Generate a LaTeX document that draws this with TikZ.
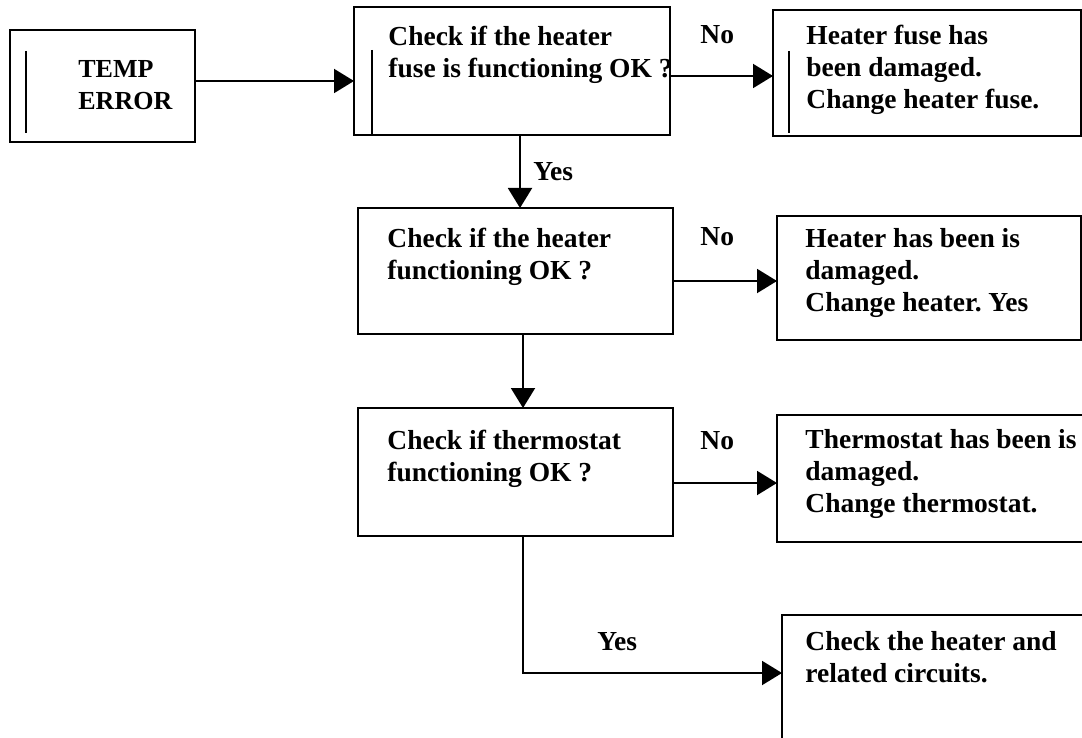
\documentclass[tikz,border=0pt]{standalone}
\usepackage{fontspec}
\setmainfont{Liberation Serif}
\usetikzlibrary{arrows.meta}

\newcommand{\firstline}{\rule{0pt}{10pt}}
\frenchspacing

\begin{document}
\begin{tikzpicture}[x=0.5pt,y=-0.5pt,
  box/.style={draw,line width=1pt,inner sep=0pt,outer sep=0pt},
  txt/.style={anchor=north west,align=left,inner sep=0pt,font=\bfseries\fontsize{13.75pt}{16pt}\selectfont},
  lbl/.style={anchor=base west,inner sep=0pt,font=\bfseries\fontsize{13.75pt}{16pt}\selectfont},
  arr/.style={line width=1pt,-{Triangle[length=10pt,width=12pt]}}]
\useasboundingbox (0,0) rectangle (1082,738);
% boxes, measured on the page (1 unit = 1 pixel of the sheet)
\node[box,minimum width=92.5pt,minimum height=56pt]  (err)       at (102.5,86)  {};
\node[box,minimum width=158pt,minimum height=64pt]   (fuse)      at (512,71)    {};
\node[box,minimum width=154pt,minimum height=63pt]   (fusebad)   at (927,73)    {};
\node[box,minimum width=157.5pt,minimum height=63pt] (heat)      at (515.5,271) {};
\node[box,minimum width=152pt,minimum height=62pt]   (heatbad)   at (929,278)   {};
\node[box,minimum width=157.5pt,minimum height=64pt] (thermo)    at (515.5,472) {};
\node[box,minimum width=156.5pt,minimum height=63.5pt] (thermobad) at (933.5,478.5) {};
\node[box,minimum width=154pt,minimum height=72.5pt] (final)     at (936,687.5) {};

% stray frame lines of the old text boxes
\draw[line width=1pt] (26,51) -- (26,133);
\draw[line width=1pt] (372,50) -- (372,135);
\draw[line width=1pt] (789,51) -- (789,133);

\node[txt,font=\bfseries\fontsize{13pt}{16pt}\selectfont] (errtext) at (78,57) {\firstline TEMP\\ERROR};
\node[txt] (fusetext)      at (388,25)  {\firstline Check if the heater\\fuse is functioning OK ?};
\node[txt] (fusebadtext)   at (806,24)  {\firstline Heater fuse has\\been damaged.\\Change heater fuse.};
\node[txt] (heattext)      at (387,227) {\firstline Check if the heater\\functioning OK ?};
\node[txt] (heatbadtext)   at (805,227) {\firstline Heater has been is\\damaged.\\Change heater. Yes};
\node[txt] (thermotext)    at (387,429) {\firstline Check if thermostat\\functioning OK ?};
\node[txt] (thermobadtext) at (805,428) {\firstline Thermostat has been is\\damaged.\\Change thermostat.};
\node[txt] (finaltext)     at (805,630) {\firstline Check the heater and\\related circuits.};

\node[lbl] (no1)  at (700,44)  {No};
\node[lbl] (no2)  at (700,245) {No};
\node[lbl] (no3)  at (700,449) {No};
\node[lbl] (yes1) at (533,180) {Yes};
\node[lbl] (yes2) at (597,650) {Yes};

\draw[arr] ([yshift=2.5pt]err.east) -- ([yshift=2.5pt]err.east -| fuse.west);
\draw[arr] ([yshift=-2.5pt]fuse.east) -- ([yshift=-2.5pt]fuse.east -| fusebad.west);
\draw[arr] ([xshift=4pt]fuse.south) -- ([xshift=4pt]fuse.south |- heat.north);
\draw[arr] ([yshift=-5pt]heat.east) -- ([yshift=-5pt]heat.east -| heatbad.west);
\draw[arr] ([xshift=3.75pt]heat.south) -- ([xshift=3.75pt]heat.south |- thermo.north);
\draw[arr] ([yshift=-5.5pt]thermo.east) -- ([yshift=-5.5pt]thermo.east -| thermobad.west);
\draw[arr] ([xshift=3.75pt]thermo.south) |- ([yshift=7.25pt]final.west);
\end{tikzpicture}
\end{document}
